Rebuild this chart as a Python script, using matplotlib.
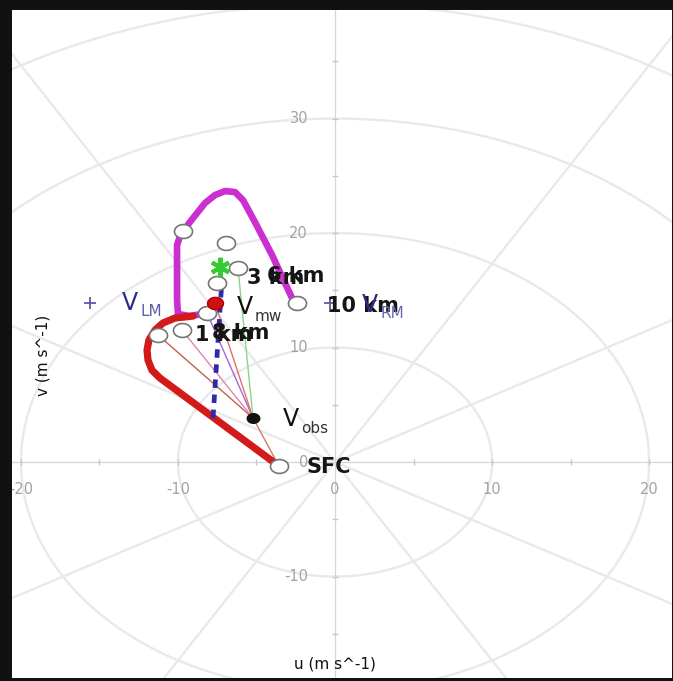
import numpy as np
import matplotlib.pyplot as plt
from matplotlib.path import Path

# ---------------- hodograph data (m s^-1) ----------------
# lower trace (surface to ~3 km)
low_u = [-3.57, -11.15, -11.66, -11.91, -11.97, -11.85, -11.46, -10.96, -10.19, -9.04]
low_v = [-0.35, 7.34, 8.03, 8.91, 9.78, 10.66, 11.53, 12.14, 12.58, 12.75]
# upper trace (to 10 km)
up_u = [-8.15, -9.24, -10.0, -10.06, -10.06, -9.87, -9.24, -8.28, -7.64, -7.0,
        -6.37, -5.86, -5.1, -4.01, -2.68]
up_v = [13.01, 12.75, 12.93, 14.15, 18.95, 19.74, 20.96, 22.62, 23.32, 23.67,
        23.58, 22.88, 20.96, 18.08, 14.15]

# observation levels (open circles)
ring_u = [-3.57, -11.27, -9.75, -8.15, -7.52, -6.18, -6.94, -9.68, -2.42]
ring_v = [-0.35, 11.09, 11.53, 13.01, 15.63, 16.94, 19.13, 20.17, 13.89]

# height labels and the level each one belongs to
level_names = ['SFC', '1 km', '8 km', '3 km', '6 km', '10 km']
level_idx = [0, 1, 2, 4, 5, 8]

# storm motions / mean wind
obs_u, obs_v = -5.22, 3.84
mw_u, mw_v = -7.64, 13.89
lm_u, lm_v = -15.6, 13.9
rm_u, rm_v = -0.3, 13.9
star_u, star_v = -7.32, 17.03
dash_u = [-7.77, -7.2]
dash_v = [3.84, 15.9]

# storm-relative rays from V_obs: target level index (None -> mean wind)
ray_targets = [0, 1, 2, 3, None, 5]
ray_colors = ['#c9806e', '#c0644e', '#e384b0', '#a865d8', '#e0706a', '#86d886']

xtick_vals = [-20, -10, 0, 10, 20]
ytick_vals = [-10, 0, 10, 20, 30]
ring_radii = [10, 20, 30, 40, 50]

# ---------------- figure ----------------
W, H = 673, 681
fig = plt.figure(figsize=(W / 100, H / 100), dpi=100, facecolor='#111111')
ax = fig.add_axes([12 / W, 3 / H, 660 / W, 668 / H])
ax.set_facecolor('white')
ax.set_xlim(-20.57, 21.46)
ax.set_ylim(-18.86, 39.48)
ax.set_xticks([])
ax.set_yticks([])
for s in ax.spines.values():
    s.set_visible(False)

PT = 0.72  # points per pixel at 100 dpi

# polar grid
th = np.linspace(0, 2 * np.pi, 721)
for r in ring_radii:
    ax.plot(r * np.cos(th), r * np.sin(th), color='#e9e9e9', lw=1.7, zorder=0)
for a in range(30, 360, 30):
    if a % 90 == 0:
        continue
    ar = np.deg2rad(a)
    ax.plot([0, 70 * np.cos(ar)], [0, 70 * np.sin(ar)], color='#e9e9e9', lw=1.7, zorder=0)
ax.axhline(0, color='#d6d6d6', lw=0.9, zorder=0.5)
ax.axvline(0, color='#d6d6d6', lw=0.9, zorder=0.5)
tx = [t for t in range(-20, 25, 5) if t != 0]
ty = [t for t in range(-15, 40, 5) if t != 0]
ax.plot(tx, [0] * len(tx), ls='none', marker='|', ms=4, mew=1.0, color='#c8c8c8', zorder=0.6)
ax.plot([0] * len(ty), ty, ls='none', marker='_', ms=4, mew=1.0, color='#c8c8c8', zorder=0.6)

# tick labels drawn inside the plot
for t in xtick_vals:
    ax.text(t, -2.36, f'{t}', color='#a3a3a3', fontsize=10.5, ha='center', va='center',
            clip_on=True, zorder=1)
for t in ytick_vals:
    ax.text(-1.72, t, f'{t}', color='#a3a3a3', fontsize=10.5, ha='right', va='center',
            clip_on=True, zorder=1)

# storm-relative rays
for tgt, c in zip(ray_targets, ray_colors):
    if tgt is None:
        tu, tv = mw_u, mw_v
    else:
        tu, tv = ring_u[tgt], ring_v[tgt]
    ax.plot([obs_u, tu], [obs_v, tv], color=c, lw=1.0, zorder=2)

# hodograph trace
ax.plot(up_u, up_v, color='#cc2fd0', lw=4.8, solid_capstyle='round',
        solid_joinstyle='round', zorder=3)
ax.plot(low_u, low_v, color='#d21a1a', lw=5.2, solid_capstyle='round',
        solid_joinstyle='round', zorder=3.2)

# mean-wind shear line
ax.plot(dash_u, dash_v, color='#2b2bab', lw=3.4, ls=(0, (1.8, 1.4)), zorder=4)

# elliptical marker (slightly wider than tall)
tt = np.linspace(0, 2 * np.pi, 60)
ell = Path(np.column_stack([1.3 * np.cos(tt), np.sin(tt)]), closed=True)

ax.plot(ring_u, ring_v, ls='none', marker=ell, ms=13, mfc='white', mec='#767676',
        mew=1.2, zorder=5)
ax.plot([mw_u], [mw_v], ls='none', marker=ell, ms=11.5, mfc='#d01010', mec='#b00000',
        zorder=6)
ax.plot([obs_u], [obs_v], ls='none', marker=ell, ms=9, mfc='#111111', mec='#111111',
        zorder=6)
ax.plot([star_u], [star_v], ls='none', marker=(6, 2, 0), ms=14, mew=3.0,
        color='#33cc33', zorder=5.5)
ax.plot([lm_u, rm_u], [lm_v, rm_v], ls='none', marker='+', ms=9, mew=1.3,
        color='#5a5aa8', zorder=4)

# height labels (pixel offsets from their level marker)
label_offsets = {'SFC': (28, 1), '1 km': (37, 0), '8 km': (30, 3),
                 '3 km': (30, -5), '6 km': (29, 8), '10 km': (30, 3)}
for name, i in zip(level_names, level_idx):
    dx, dy = label_offsets[name]
    ax.annotate(name, (ring_u[i], ring_v[i]), xytext=(dx * PT, -dy * PT),
                textcoords='offset points', ha='left', va='center',
                fontsize=15, fontweight='bold', color='#151515', zorder=8)


def vlabel(x, y, sub, dx, dy, vcol, scol):
    ax.annotate('V', (x, y), xytext=(dx * PT, -dy * PT), textcoords='offset points',
                ha='left', va='center', fontsize=17, color=vcol, zorder=9)
    ax.annotate(sub, (x, y), xytext=((dx + 18) * PT, -(dy + 9) * PT),
                textcoords='offset points', ha='left', va='center',
                fontsize=11, color=scol, zorder=9)


vlabel(obs_u, obs_v, 'obs', 30, 1, '#111111', '#333333')
vlabel(mw_u, mw_v, 'mw', 22, 4, '#111111', '#333333')
vlabel(lm_u, lm_v, 'LM', 32, 0, '#2b2b8c', '#5c5cae')
vlabel(rm_u, rm_v, 'RM', 32, 2, '#2b2b8c', '#6a6ab4')

# axis titles
ax.text(0, -17.6, 'u (m s^-1)', fontsize=11, color='#111111', ha='center', va='center')
ax.text(-18.6, 9.3, 'v (m s^-1)', fontsize=11, color='#111111', ha='center',
        va='center', rotation=90)

fig.savefig('out.png', dpi=100, facecolor=fig.get_facecolor())
